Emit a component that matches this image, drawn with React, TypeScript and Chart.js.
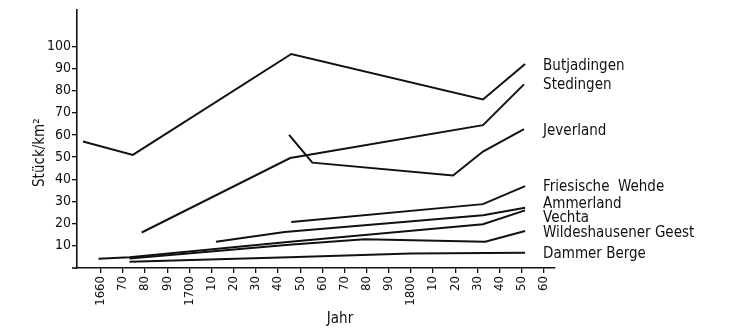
import React, { useEffect, useRef } from "react";
import { Chart, registerables } from "chart.js";

Chart.register(...registerables);

const regionNames = [
  "Butjadingen",
  "Stedingen",
  "Jeverland",
  "Friesische  Wehde",
  "Ammerland",
  "Vechta",
  "Wildeshausener Geest",
  "Dammer Berge",
];

const butjadingenYears = [1652, 1674.5, 1746, 1832.5, 1851.5];
const butjadingenValues = [57, 51, 96.5, 76, 92];
const stedingenYears = [1678.5, 1745.5, 1832.5, 1851];
const stedingenValues = [16, 49.6, 64.4, 82.8];
const jeverlandYears = [1745, 1755.5, 1819, 1832.5, 1851];
const jeverlandValues = [60, 47.5, 41.7, 52.5, 62.6];
const friesischeYears = [1746, 1832.5, 1851.5];
const friesischeValues = [20.7, 28.8, 36.9];
const ammerlandYears = [1712, 1743, 1832.5, 1851.5];
const ammerlandValues = [11.8, 16.2, 23.8, 27.2];
const vechtaYears = [1659, 1673, 1745.5, 1832.5, 1851.5];
const vechtaValues = [4.2, 4.8, 11.8, 19.7, 26];
const wildeshausenYears = [1673, 1745, 1779, 1833.5, 1851.5];
const wildeshausenValues = [4.3, 10.5, 13, 11.8, 16.7];
const dammerYears = [1673, 1745, 1800, 1851.5];
const dammerValues = [2.8, 4.8, 6.5, 6.9];

// value (Stück/km²) at which each region's name sits
const labelValues = [91, 82.5, 61.9, 36.3, 28.7, 22.4, 15.7, 6.3];

const xTickYears = [1660, 1670, 1680, 1690, 1700, 1710, 1720, 1730, 1740, 1750, 1760, 1770, 1780, 1790, 1800, 1810, 1820, 1830, 1840, 1850, 1860];
const yTickValues = [10, 20, 30, 40, 50, 60, 70, 80, 90, 100];

const xTitle = "Jahr";
const yTitle = "Stück/km²";

const FONT = "'Liberation Sans Narrow', 'DejaVu Sans Condensed', 'Liberation Sans', sans-serif";
const INK = "#111111";

const seriesYears = [butjadingenYears, stedingenYears, jeverlandYears, friesischeYears, ammerlandYears, vechtaYears, wildeshausenYears, dammerYears];
const seriesValues = [butjadingenValues, stedingenValues, jeverlandValues, friesischeValues, ammerlandValues, vechtaValues, wildeshausenValues, dammerValues];

function xTickLabel(v: number): string {
  if (v === 1660 || v === 1700 || v === 1800) return String(v);
  return String(v % 100);
}

export default function App() {
  const ref = useRef<HTMLCanvasElement | null>(null);

  useEffect(() => {
    document.body.style.margin = "0";
    const canvas = ref.current;
    if (!canvas) return;

    const labelPlugin = {
      id: "labelsAndTitles",
      afterDraw(chart: any) {
        const ctx = chart.ctx;
        const xs = chart.scales.x;
        const ys = chart.scales.y;
        const area = chart.chartArea;
        ctx.save();
        // x axis stub left of the y axis
        ctx.strokeStyle = INK;
        ctx.lineWidth = 1.6;
        ctx.beginPath();
        ctx.moveTo(area.left - 5, area.bottom);
        ctx.lineTo(area.left, area.bottom);
        ctx.stroke();

        ctx.fillStyle = INK;
        ctx.font = `15px ${FONT}`;
        ctx.textBaseline = "middle";
        ctx.textAlign = "left";
        let maxYear = 0;
        seriesYears.forEach((a) => a.forEach((v) => (maxYear = Math.max(maxYear, v))));
        const lx = xs.getPixelForValue(maxYear) + 18;
        regionNames.forEach((n, i) => {
          ctx.fillText(n, lx, ys.getPixelForValue(labelValues[i]));
        });
        ctx.textAlign = "center";
        ctx.font = `15px ${FONT}`;
        ctx.fillText(xTitle, xs.getPixelForValue(1768), 319);
        ctx.translate(40, ys.getPixelForValue(52));
        ctx.rotate(-Math.PI / 2);
        ctx.fillText(yTitle, 0, 0);
        ctx.restore();
      },
    };

    const chart = new Chart(canvas, {
      type: "line",
      data: {
        datasets: regionNames.map((n, i) => ({
          label: n,
          data: seriesYears[i].map((yr, j) => ({ x: yr, y: seriesValues[i][j] })),
          borderColor: INK,
          borderWidth: 2,
          pointRadius: 0,
          tension: 0,
          fill: false,
        })),
      },
      options: {
        animation: false,
        responsive: false,
        layout: { padding: { left: 0, top: 8, right: 174, bottom: 0 } },
        plugins: { legend: { display: false }, tooltip: { enabled: false } },
        scales: {
          x: {
            type: "linear",
            min: 1649.3,
            max: 1865,
            afterBuildTicks: (s: any) => {
              s.ticks = xTickYears.map((v) => ({ value: v }));
            },
            afterFit: (s: any) => {
              s.height = 64;
            },
            grid: { display: true, drawOnChartArea: false, drawTicks: true, tickLength: 5, color: INK, lineWidth: 1.3 },
            border: { display: true, color: INK, width: 1.6 },
            ticks: {
              autoSkip: false,
              maxRotation: 90,
              minRotation: 90,
              padding: 3,
              color: INK,
              font: { family: FONT, size: 13 },
              callback: (v: any) => xTickLabel(Number(v)),
            },
          },
          y: {
            type: "linear",
            min: 0,
            max: 116.6,
            afterBuildTicks: (s: any) => {
              s.ticks = yTickValues.map((v) => ({ value: v }));
            },
            afterFit: (s: any) => {
              s.width = 77;
            },
            grid: { display: true, drawOnChartArea: false, drawTicks: true, tickLength: 5, color: INK, lineWidth: 1.3 },
            border: { display: true, color: INK, width: 1.6 },
            ticks: {
              autoSkip: false,
              padding: 1,
              color: INK,
              font: { family: FONT, size: 14 },
            },
          },
        },
      },
      plugins: [labelPlugin],
    });
    return () => chart.destroy();
  }, []);

  return (
    <div style={{ width: 729, height: 332, background: "#fff" }}>
      <canvas ref={ref} width={729} height={332} style={{ display: "block", width: 729, height: 332 }} />
    </div>
  );
}
